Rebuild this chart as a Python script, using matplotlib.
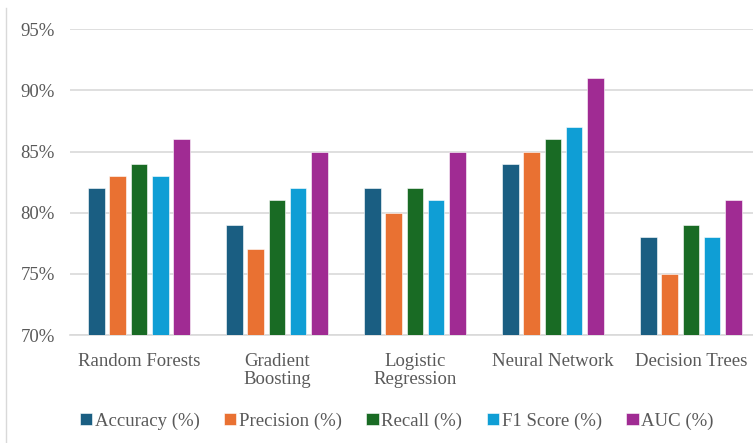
import numpy as np
import matplotlib.pyplot as plt
from matplotlib.lines import Line2D

models = ['Random Forests', 'Gradient\nBoosting', 'Logistic\nRegression', 'Neural Network', 'Decision Trees']
metrics = ['Accuracy (%)', 'Precision (%)', 'Recall (%)', 'F1 Score (%)', 'AUC (%)']
accuracy = [82, 79, 82, 84, 78]
precision = [83, 77, 80, 85, 75]
recall = [84, 81, 82, 86, 79]
f1_score = [83, 82, 81, 87, 78]
auc = [86, 85, 85, 91, 81]
colors = ['#1A5E82', '#E97132', '#196B24', '#0F9ED5', '#A02B93']

series = [accuracy, precision, recall, f1_score, auc]

plt.rcParams['font.family'] = ['Liberation Serif', 'DejaVu Serif']
txt = '#595959'
grid = '#D9D9D9'

fig = plt.figure(figsize=(7.53, 4.43), dpi=100)
ax = fig.add_axes([70/753, 108/443, 683/753, 305.7/443])

x = np.arange(len(models))
step = 0.154
width = 0.12
for i, (vals, name, c) in enumerate(zip(series, metrics, colors)):
    ax.bar(x + (i - 2) * step, vals, width, color=c, label=name,
           edgecolor='white', linewidth=0.4, zorder=3)

ax.set_ylim(70, 95)
ax.set_xlim(-0.5, 4.45)
ax.set_yticks([70, 75, 80, 85, 90, 95])
ax.set_yticklabels([f'{v}%' for v in [70, 75, 80, 85, 90, 95]])
ax.set_xticks(x)
ax.set_xticklabels(models, linespacing=1.1)
ax.tick_params(axis='both', length=0, labelsize=13.5, colors=txt)
ax.tick_params(axis='y', pad=11)
ax.tick_params(axis='x', pad=13)
ax.yaxis.grid(True, color=grid, linewidth=1.2, zorder=0)
for s in ['top', 'right', 'left']:
    ax.spines[s].set_visible(False)
ax.spines['bottom'].set_color(grid)
ax.spines['bottom'].set_linewidth(1.2)

fig.legend(loc='center', bbox_to_anchor=(0.527, 1 - 421/443), ncol=5, frameon=False,
           fontsize=13.5, labelcolor=txt, handlelength=0.65, handleheight=0.65,
           handletextpad=0.15, columnspacing=1.3)

# chart-area border on the left
fig.add_artist(Line2D([6.5/753, 6.5/753], [0, 1 - 8/443], color=grid, linewidth=1))

plt.savefig('out.png', dpi=100)
